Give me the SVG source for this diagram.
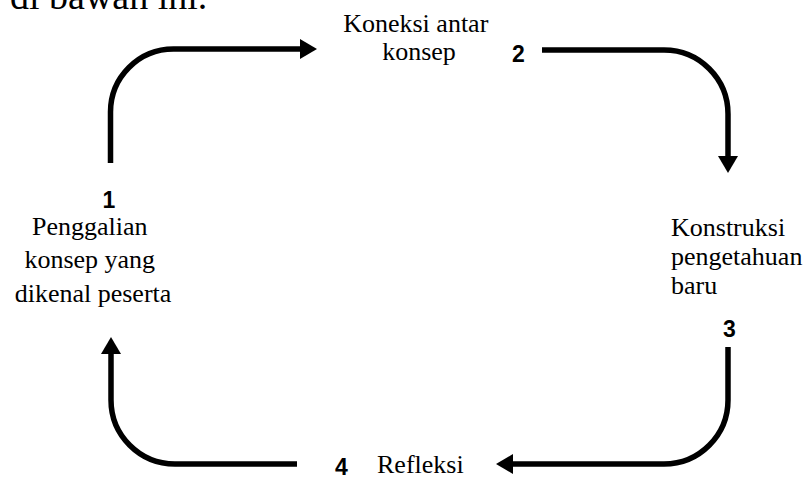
<svg xmlns="http://www.w3.org/2000/svg" width="805" height="480" viewBox="0 0 805 480">
  <style>
    .lbl { font-family: "Liberation Serif", "Times New Roman", serif; font-size: 26px; fill: #000; }
    .num { font-family: "Liberation Sans", Arial, sans-serif; font-size: 23px; font-weight: bold; fill: #000; }
    .intro { font-family: "Liberation Serif", "Times New Roman", serif; font-size: 38px; fill: #000; }
    .flow { fill: none; stroke: #000; stroke-width: 5.5; }
    .head { fill: #000; }
  </style>

  <!-- tail of the preceding paragraph line -->
  <text class="intro" x="10" y="9">di bawah ini.</text>

  <!-- cycle connectors -->
  <g id="connectors">
    <path class="flow" d="M110.5,163 V112 A63,63 0 0 1 173.5,49 H301"/>
    <polygon class="head" points="300,39 317,49 300,59"/>

    <path class="flow" d="M542,50 H664 A64,64 0 0 1 728,114 V157"/>
    <polygon class="head" points="718,156 728,173 738,156"/>

    <path class="flow" d="M728,347 V400 A64,64 0 0 1 664,464 H512"/>
    <polygon class="head" points="513,454 496,464 513,474"/>

    <path class="flow" d="M297,464 H175 A64,64 0 0 1 111,400 V353"/>
    <polygon class="head" points="101,354 111,337 121,354"/>
  </g>

  <g id="step1">
    <text class="num" x="109" y="208" text-anchor="middle">1</text>
    <text class="lbl" text-anchor="middle">
      <tspan x="93" y="235">Penggalian</tspan>
      <tspan x="93" y="268">konsep yang</tspan>
      <tspan x="93" y="302">dikenal peserta</tspan>
    </text>
  </g>

  <g id="step2">
    <text class="lbl" text-anchor="middle">
      <tspan x="419" y="32">Koneksi antar</tspan>
      <tspan x="419" y="60">konsep</tspan>
    </text>
    <text class="num" x="512" y="62">2</text>
  </g>

  <g id="step3">
    <text class="lbl">
      <tspan x="671" y="236">Konstruksi</tspan>
      <tspan x="671" y="265">pengetahuan</tspan>
      <tspan x="671" y="294">baru</tspan>
    </text>
    <text class="num" x="729.5" y="337" text-anchor="middle">3</text>
  </g>

  <g id="step4">
    <text class="num" x="335" y="475">4</text>
    <text class="lbl" x="377" y="473">Refleksi</text>
  </g>
</svg>
